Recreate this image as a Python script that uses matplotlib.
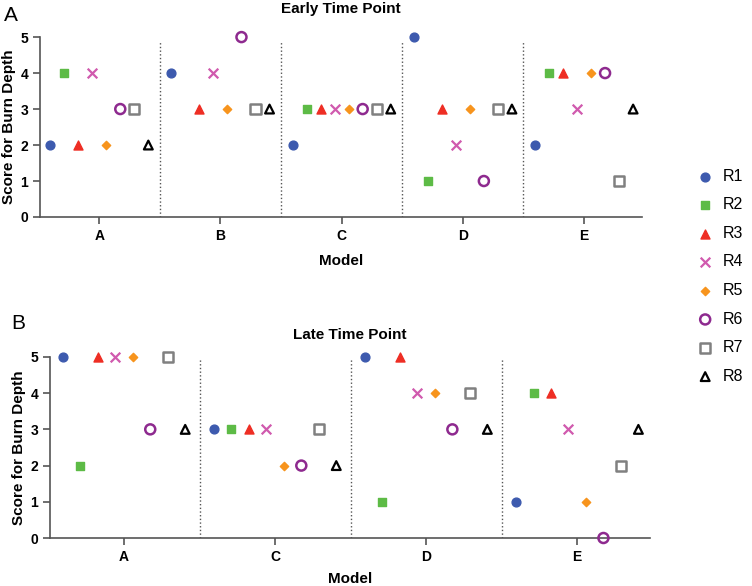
import numpy as np
import matplotlib.pyplot as plt

plt.rcParams['font.family'] = ['Liberation Sans', 'DejaVu Sans']

raters = ['R1', 'R2', 'R3', 'R4', 'R5', 'R6', 'R7', 'R8']

early_models = ['A', 'B', 'C', 'D', 'E']
early_R1 = [2, 4, 2, 5, 2]
early_R2 = [4, np.nan, 3, 1, 4]
early_R3 = [2, 3, 3, 3, 4]
early_R4 = [4, 4, 3, 2, 3]
early_R5 = [2, 3, 3, 3, 4]
early_R6 = [3, 5, 3, 1, 4]
early_R7 = [3, 3, 3, 3, 1]
early_R8 = [2, 3, 3, 3, 3]

late_models = ['A', 'C', 'D', 'E']
late_R1 = [5, 3, 5, 1]
late_R2 = [2, 3, 1, 4]
late_R3 = [5, 3, 5, 4]
late_R4 = [5, 3, 4, 3]
late_R5 = [5, 2, 4, 1]
late_R6 = [3, 2, 3, 0]
late_R7 = [5, 3, 4, 2]
late_R8 = [3, 2, 3, 3]

early = [early_R1, early_R2, early_R3, early_R4, early_R5, early_R6, early_R7, early_R8]
late = [late_R1, late_R2, late_R3, late_R4, late_R5, late_R6, late_R7, late_R8]

# marker styles per rater
styles = [
    dict(marker='o', s=40, color='#3D5AAE'),
    dict(marker='s', s=40, color='#5DBB46'),
    dict(marker='^', s=42, color='#EE2E24'),
    dict(marker='x', s=48, color='#D05AAE', linewidths=1.6),
    dict(marker='D', s=18, color='#F7941D'),
    dict(marker='o', s=52, facecolors='none', edgecolors='#8E2A8F', linewidths=1.8),
    dict(marker='s', s=52, facecolors='none', edgecolors='#808080', linewidths=1.8),
    dict(marker='^', s=40, facecolors='none', edgecolors='black', linewidths=1.6),
]

step = 0.1157

fig = plt.figure(figsize=(7.52, 5.86), dpi=100)
ax1 = fig.add_axes([0.053, 0.6297, 0.801, 0.307])
ax2 = fig.add_axes([0.0665, 0.0819, 0.7975, 0.309])


def draw(ax, models, data, title, xpad, tpad, top):
    x = np.arange(len(models))
    for i, (vals, st) in enumerate(zip(data, styles)):
        ax.scatter(x + (i - 3.5) * step, vals, label=raters[i], clip_on=False, zorder=3, **st)
    for k in range(len(models) - 1):
        ax.plot([k + 0.5, k + 0.5], [0, top], linestyle=':', color='#555555', linewidth=1)
    ax.set_xlim(-0.49, len(models) - 0.52)
    ax.set_ylim(0, 5)
    ax.set_xticks(x)
    ax.set_xticklabels(models, fontweight='bold', fontsize=10)
    ax.set_yticks(range(6))
    ax.set_yticklabels([str(v) for v in range(6)], fontweight='bold', fontsize=10)
    ax.spines['top'].set_visible(False)
    ax.spines['right'].set_visible(False)
    for sp in ['left', 'bottom']:
        ax.spines[sp].set_color('#555555')
        ax.spines[sp].set_linewidth(1.2)
    ax.tick_params(colors='#555555', labelcolor='black', width=1.2, length=5)
    ax.set_ylabel('Score for Burn Depth', fontweight='bold', fontsize=11, labelpad=3)
    ax.set_xlabel('Model', fontweight='bold', fontsize=11, labelpad=xpad)
    ax.set_title(title, fontweight='bold', fontsize=11, pad=tpad)


draw(ax1, early_models, early, 'Early Time Point', 8, 17, 4.88)
draw(ax2, late_models, late, 'Late Time Point', 6, 13, 4.95)

fig.text(0.005, 0.99, 'A', fontsize=15, va='top')
fig.text(0.015, 0.465, 'B', fontsize=15, va='top')

handles, labels = ax1.get_legend_handles_labels()
fig.legend(handles, labels, loc='upper left', bbox_to_anchor=(0.925, 0.712),
           frameon=False, fontsize=11.5, labelspacing=0.85, handletextpad=0.5,
           handlelength=1.2, borderaxespad=0, borderpad=0)

fig.savefig('out.png', dpi=100)
